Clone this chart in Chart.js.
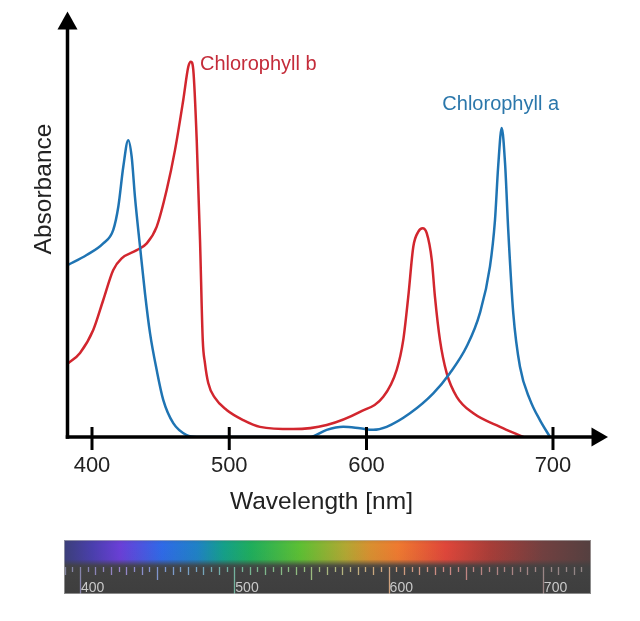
<!DOCTYPE html>
<html>
<head>
<meta charset="utf-8">
<script src="https://cdn.jsdelivr.net/npm/chart.js@4.4.1/dist/chart.umd.min.js"></script>
<style>
html,body{margin:0;padding:0;background:#fff;}
#wrap{position:relative;width:640px;height:621px;overflow:hidden;}
#mainBox{position:absolute;left:0;top:0;width:640px;height:525px;}
#specBox{position:absolute;left:64px;top:540px;width:527px;height:54px;}
</style>
</head>
<body>
<div id="wrap">
  <div id="mainBox"><canvas id="main"></canvas></div>
  <div id="specBox"><canvas id="spec"></canvas></div>
</div>
<script>
// ---------------- DATA ----------------
const axisTickValues = [400, 500, 600, 700];
const seriesNames = ['Chlorophyll a', 'Chlorophyll b'];
const axisTitles = { x: 'Wavelength [nm]', y: 'Absorbance' };

const chlAWavelength = [382.2, 396.1, 408.2, 415.5, 419.2, 422.8, 426.4, 428.9, 431.3, 435.0, 438.6, 442.3, 447.1, 451.9, 459.2, 469.0, 476.3,
  558.8, 571.0, 583.1, 595.3, 603.6, 610.8, 623.3, 635.8, 644.7, 653.7, 660.8, 666.2, 668.9, 670.6, 672.5, 674.3, 676.0, 678.7, 682.3, 687.7, 693.0, 698.4];
const chlAAbsorbance = [0.458, 0.485, 0.516, 0.552, 0.614, 0.720, 0.791, 0.747, 0.640, 0.507, 0.383, 0.276, 0.179, 0.099, 0.037, 0.005, 0.0,
  0.0, 0.019, 0.027, 0.023, 0.019, 0.027, 0.063, 0.116, 0.170, 0.241, 0.330, 0.454, 0.578, 0.720, 0.823, 0.729, 0.552, 0.330, 0.187, 0.099, 0.045, 0.0];

const chlBWavelength = [382.2, 391.3, 400.9, 408.2, 415.5, 421.6, 432.6, 439.9, 447.1, 454.4, 460.5, 466.5, 470.2, 472.1, 473.8, 476.3, 478.7, 480.7,
  482.3, 484.7, 489.6, 498.1, 510.2, 522.4, 546.7, 571.0, 595.3, 609.0, 616.2, 619.7, 622.4, 625.1, 627.8, 630.1, 632.3, 635.0, 636.7, 639.4, 643.0, 648.4, 657.3, 671.6, 684.1];
const chlBAbsorbance = [0.195, 0.224, 0.285, 0.365, 0.445, 0.476, 0.498, 0.516, 0.560, 0.658, 0.765, 0.898, 0.987, 1.0, 0.978, 0.791, 0.525, 0.258,
  0.197, 0.144, 0.104, 0.072, 0.045, 0.027, 0.021, 0.032, 0.067, 0.107, 0.179, 0.258, 0.374, 0.507, 0.547, 0.556, 0.543, 0.472, 0.374, 0.258, 0.170, 0.107, 0.063, 0.027, 0.0];

const spectrumLabels = [400, 500, 600, 700];

// ---------------- STYLE ----------------
const FONT = "'Liberation Sans', Arial, Helvetica, sans-serif";
const RED = '#d2262e', BLUE = '#1f74b3';
const RED_TEXT = '#c42c3a', BLUE_TEXT = '#2b77ab';
const SPECTRUM_STOPS = [
  [389, '#3b3f7a'], [408, '#4a3fae'], [426, '#6a3fd8'], [453, '#2f6ae8'], [476, '#1f82c6'],
  [493, '#14a08a'], [511, '#1fae5c'], [543, '#5ec033'], [572, '#b2a833'], [588, '#d99030'],
  [606, '#ef7a30'], [637, '#e0463a'], [666, '#a83d38'], [700, '#724040'], [731, '#554040']
];
function lighten(hex, f) {
  const n = parseInt(hex.slice(1), 16);
  const c = [(n >> 16) & 255, (n >> 8) & 255, n & 255].map(v => Math.round(v + (255 - v) * f));
  return 'rgb(' + c.join(',') + ')';
}

// The figure's wavelength axis: 400-600 and 600-700 are drawn at different spacing
const BREAK = 600, STRETCH = 1.3588;
class WarpScale extends Chart.LinearScale {
  warp(v) { return v <= BREAK ? v : BREAK + (v - BREAK) * STRETCH; }
  unwarp(d) { return d <= BREAK ? d : BREAK + (d - BREAK) / STRETCH; }
  configure() { super.configure(); this._wMin = this.warp(this.min); this._wMax = this.warp(this.max); }
  getPixelForValue(v) {
    if (v === null || v === undefined || isNaN(v)) return NaN;
    return this.getPixelForDecimal((this.warp(v) - this._wMin) / (this._wMax - this._wMin));
  }
  getValueForPixel(p) { return this.unwarp(this._wMin + this.getDecimalForPixel(p) * (this._wMax - this._wMin)); }
}
WarpScale.id = 'warpedLinear';
WarpScale.defaults = Chart.LinearScale.defaults;
Chart.register(WarpScale);

const zip = (xs, ys) => xs.map((x, i) => ({ x: x, y: ys[i] }));

const axisPlugin = {
  id: 'arrowAxes',
  afterDatasetsDraw(chart) {
    const { ctx, chartArea: a, scales: { x } } = chart;
    ctx.save();
    ctx.strokeStyle = '#000'; ctx.fillStyle = '#000'; ctx.lineWidth = 3.5; ctx.lineCap = 'butt';
    ctx.beginPath(); ctx.moveTo(a.left, a.bottom + 1.75); ctx.lineTo(a.left, a.top + 16); ctx.stroke();
    ctx.beginPath(); ctx.moveTo(a.left, a.top - 0.5); ctx.lineTo(a.left - 10, a.top + 17.5); ctx.lineTo(a.left + 10, a.top + 17.5); ctx.closePath(); ctx.fill();
    ctx.beginPath(); ctx.moveTo(a.left - 1.75, a.bottom); ctx.lineTo(a.right - 14, a.bottom); ctx.stroke();
    ctx.beginPath(); ctx.moveTo(a.right, a.bottom); ctx.lineTo(a.right - 16.5, a.bottom - 9.5); ctx.lineTo(a.right - 16.5, a.bottom + 9.5); ctx.closePath(); ctx.fill();
    ctx.lineWidth = 3;
    x.ticks.forEach(t => {
      const px = x.getPixelForValue(t.value);
      ctx.beginPath(); ctx.moveTo(px, a.bottom - 10); ctx.lineTo(px, a.bottom + 13); ctx.stroke();
    });
    // axis titles
    ctx.fillStyle = '#222';
    ctx.font = '24.5px ' + FONT; ctx.textAlign = 'center'; ctx.textBaseline = 'middle';
    const xc = (x.getPixelForValue(axisTickValues[0]) + x.getPixelForValue(axisTickValues[axisTickValues.length - 1])) / 2;
    ctx.fillText(axisTitles.x, xc - 1, a.bottom + 65.5);
    ctx.save();
    ctx.translate(a.left - 23.5, a.top + 177);
    ctx.rotate(-Math.PI / 2);
    ctx.fillText(axisTitles.y, 0, 0);
    ctx.restore();
    ctx.restore();
  }
};

const seriesLabelPlugin = {
  id: 'seriesLabels',
  afterDatasetsDraw(chart) {
    const { ctx, scales: { x, y } } = chart;
    ctx.save();
    ctx.font = '20px ' + FONT;
    ctx.textBaseline = 'middle';
    chart.data.datasets.forEach(ds => {
      let pk = ds.data[0];
      ds.data.forEach(p => { if (p.y > pk.y) pk = p; });
      const px = x.getPixelForValue(pk.x), py = y.getPixelForValue(pk.y);
      if (ds.label === seriesNames[1]) {
        ctx.fillStyle = RED_TEXT; ctx.textAlign = 'left';
        ctx.fillText(ds.label, px + 9, py + 3);
      } else {
        ctx.fillStyle = BLUE_TEXT; ctx.textAlign = 'center';
        ctx.fillText(ds.label, px - 1, py - 24);
      }
    });
    ctx.restore();
  }
};

new Chart(document.getElementById('main'), {
  type: 'line',
  data: {
    datasets: [
      { label: seriesNames[0], data: zip(chlAWavelength, chlAAbsorbance), borderColor: BLUE, borderWidth: 2.5,
        pointRadius: 0, fill: false, cubicInterpolationMode: 'monotone' },
      { label: seriesNames[1], data: zip(chlBWavelength, chlBAbsorbance), borderColor: RED, borderWidth: 2.5,
        pointRadius: 0, fill: false, cubicInterpolationMode: 'monotone' }
    ]
  },
  options: {
    responsive: true, maintainAspectRatio: false, animation: false, events: [],
    layout: { padding: { left: 67.5, right: 32, top: 12, bottom: 29.6 } },
    plugins: { legend: { display: false }, tooltip: { enabled: false } },
    scales: {
      x: {
        type: 'warpedLinear', min: 382.15, max: 729.5,
        afterBuildTicks: s => { s.ticks = axisTickValues.map(v => ({ value: v })); },
        grid: { display: false, drawTicks: false }, border: { display: false },
        ticks: { font: { family: FONT, size: 22 }, color: '#222', padding: 16, maxRotation: 0, autoSkip: false,
          callback: v => String(v) },
        title: { display: false }
      },
      y: {
        type: 'linear', min: 0, max: 1.1324, display: false
      }
    }
  },
  plugins: [axisPlugin, seriesLabelPlugin]
});

const spectrumPlugin = {
  id: 'spectrumBar',
  afterDraw(chart) {
    const { ctx, chartArea: a, scales: { x } } = chart;
    const W = a.right - a.left, H = a.bottom - a.top;
    ctx.save();
    const g = ctx.createLinearGradient(a.left, 0, a.right, 0);
    const light = ctx.createLinearGradient(a.left, 0, a.right, 0);
    SPECTRUM_STOPS.forEach(([nm, col]) => {
      const p = Math.min(1, Math.max(0, (x.getPixelForValue(nm) - a.left) / W));
      g.addColorStop(p, col);
      light.addColorStop(p, lighten(col, 0.45));
    });
    ctx.fillStyle = g; ctx.fillRect(a.left, a.top, W, H);
    const v = ctx.createLinearGradient(0, a.top, 0, a.bottom);
    v.addColorStop(0, 'rgba(66,66,66,0.12)');
    v.addColorStop(0.08, 'rgba(66,66,66,0)');
    v.addColorStop(0.36, 'rgba(66,66,66,0.04)');
    v.addColorStop(0.47, 'rgba(66,66,66,0.85)');
    v.addColorStop(0.53, 'rgba(66,66,66,1)');
    v.addColorStop(1, 'rgba(62,62,62,1)');
    ctx.fillStyle = v; ctx.fillRect(a.left, a.top, W, H);
    // ruler ticks
    ctx.strokeStyle = light; ctx.lineWidth = 1.3; ctx.globalAlpha = 0.8;
    const y0 = a.top + 27;
    for (let nm = 390; nm <= 725; nm += 5) {
      const px = Math.round(x.getPixelForValue(nm)) + 0.5;
      const len = nm % 100 === 0 ? (a.bottom - y0) : nm % 50 === 0 ? 13 : nm % 10 === 0 ? 8 : 5;
      ctx.beginPath(); ctx.moveTo(px, y0); ctx.lineTo(px, y0 + len); ctx.stroke();
    }
    ctx.globalAlpha = 1;
    ctx.fillStyle = '#c9c9c9';
    ctx.font = '14px ' + FONT; ctx.textAlign = 'left'; ctx.textBaseline = 'alphabetic';
    spectrumLabels.forEach(nm => {
      ctx.fillText(String(nm), x.getPixelForValue(nm) + 1, a.bottom - 2.3);
    });
    ctx.strokeStyle = 'rgba(190,190,190,0.6)'; ctx.lineWidth = 1;
    ctx.strokeRect(a.left + 0.5, a.top + 0.5, W - 1, H - 1);
    ctx.restore();
  }
};

new Chart(document.getElementById('spec'), {
  type: 'line',
  data: { datasets: [] },
  options: {
    responsive: true, maintainAspectRatio: false, animation: false, events: [],
    layout: { padding: 0 },
    plugins: { legend: { display: false }, tooltip: { enabled: false } },
    scales: {
      x: { type: 'linear', min: 389.6, max: 731.2, display: false },
      y: { type: 'linear', min: 0, max: 1, display: false }
    }
  },
  plugins: [spectrumPlugin]
});
</script>
</body>
</html>
